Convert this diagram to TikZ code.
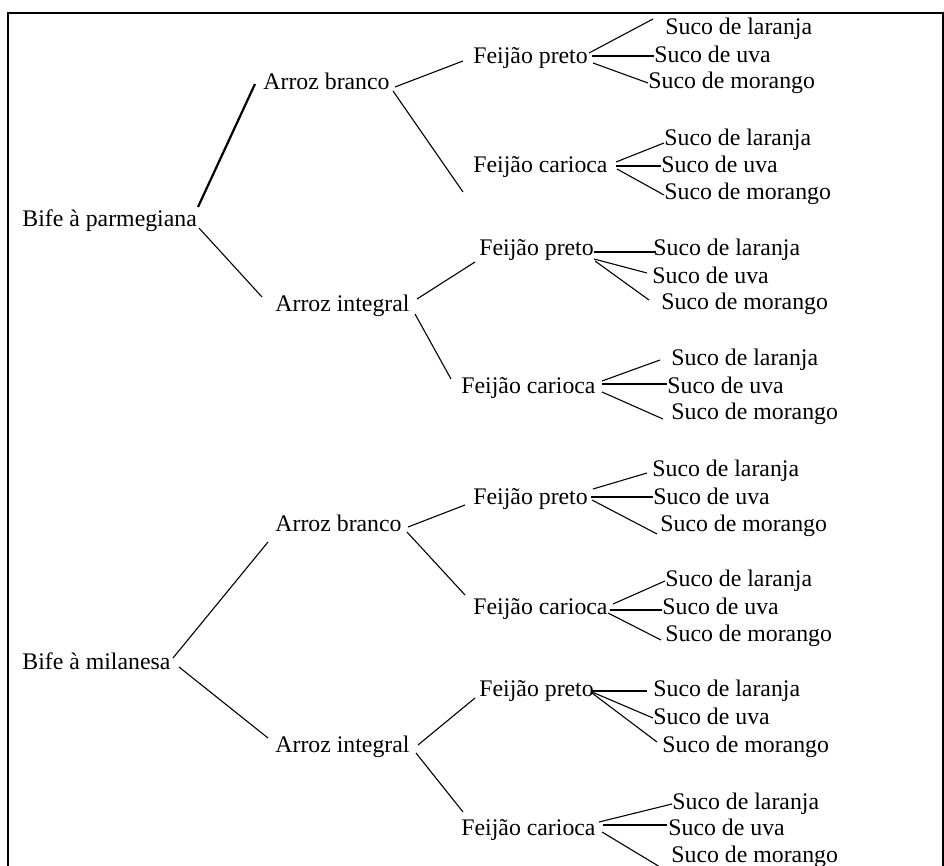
\documentclass[tikz,border=0pt]{standalone}
\usepackage{fontspec}
\setmainfont{Liberation Serif}
\tikzset{
  lbl/.style={anchor=base west, inner sep=0pt, font=\fontsize{11.9}{14}\selectfont},
  conn/.style={line width=0.55pt},
  thickconn/.style={line width=1.1pt},
  frameline/.style={line width=1.1pt}
}
\newcommand\lnk[5]{\coordinate (#1-#2-s) at (#3); \coordinate (#1-#2-e) at (#4); \draw[#5] (#1-#2-s) -- (#1-#2-e);}
\begin{document}
\begin{tikzpicture}[x=0.5pt,y=-0.5pt]
\useasboundingbox (0,0) rectangle (944,866);
% frame
\coordinate (fbl) at (8,870);
\coordinate (ftl) at (8,13);
\coordinate (ftr) at (943,13);
\coordinate (fbr) at (943,870);
\draw[frameline] (fbl) -- (ftl) -- (ftr) -- (fbr);
% level 0
\node[lbl] (B1) at (22,227) {Bife à parmegiana};
\node[lbl] (B2) at (22,669) {Bife à milanesa};
% level 1
\node[lbl] (A1) at (263,90) {Arroz branco};
\node[lbl] (A2) at (275,312) {Arroz integral};
\node[lbl] (A3) at (275,532) {Arroz branco};
\node[lbl] (A4) at (275,752) {Arroz integral};
% level 2
\node[lbl] (F1) at (473,64) {Feijão preto};
\node[lbl] (F2) at (473,173) {Feijão carioca};
\node[lbl] (F3) at (479,256) {Feijão preto};
\node[lbl] (F4) at (461,394) {Feijão carioca};
\node[lbl] (F5) at (473,505) {Feijão preto};
\node[lbl] (F6) at (473,615) {Feijão carioca};
\node[lbl] (F7) at (479,697) {Feijão preto};
\node[lbl] (F8) at (461,835) {Feijão carioca};
% level 3
\node[lbl] (S11) at (665,35) {Suco de laranja};
\node[lbl] (S12) at (654,63) {Suco de uva};
\node[lbl] (S13) at (648,89) {Suco de morango};
\node[lbl] (S21) at (664,146) {Suco de laranja};
\node[lbl] (S22) at (661,173) {Suco de uva};
\node[lbl] (S23) at (664,200) {Suco de morango};
\node[lbl] (S31) at (653,256) {Suco de laranja};
\node[lbl] (S32) at (652,284) {Suco de uva};
\node[lbl] (S33) at (661,310) {Suco de morango};
\node[lbl] (S41) at (671,366) {Suco de laranja};
\node[lbl] (S42) at (667,394) {Suco de uva};
\node[lbl] (S43) at (671,420) {Suco de morango};
\node[lbl] (S51) at (652,477) {Suco de laranja};
\node[lbl] (S52) at (653,505) {Suco de uva};
\node[lbl] (S53) at (660,532) {Suco de morango};
\node[lbl] (S61) at (665,587) {Suco de laranja};
\node[lbl] (S62) at (662,615) {Suco de uva};
\node[lbl] (S63) at (665,642) {Suco de morango};
\node[lbl] (S71) at (653,697) {Suco de laranja};
\node[lbl] (S72) at (653,725) {Suco de uva};
\node[lbl] (S73) at (662,752) {Suco de morango};
\node[lbl] (S81) at (672,809) {Suco de laranja};
\node[lbl] (S82) at (668,835) {Suco de uva};
\node[lbl] (S83) at (671,863) {Suco de morango};
% connectors
\lnk{B1}{A1}{198,207}{255,84}{thickconn}
\lnk{B1}{A2}{199,228}{262,297}{conn}
\lnk{A1}{F1}{395,87}{463,61}{conn}
\lnk{A1}{F2}{393,91}{463,192}{conn}
\lnk{A2}{F3}{417,299}{475,262}{conn}
\lnk{A2}{F4}{415,314}{451,379}{conn}
\lnk{F1}{S11}{589,53}{653,19}{conn}
\lnk{F1}{S12}{592,56}{654,56}{conn}
\lnk{F1}{S13}{593,63}{648,83}{conn}
\lnk{F2}{S21}{616,162}{664,143}{conn}
\lnk{F2}{S22}{616,166}{661,166}{conn}
\lnk{F2}{S23}{617,169}{664,195}{conn}
\lnk{F3}{S31}{594,252}{656,252}{conn}
\lnk{F3}{S32}{594,259}{647,273}{conn}
\lnk{F3}{S33}{595,261}{649,300}{conn}
\lnk{F4}{S41}{602,381}{660,360}{conn}
\lnk{F4}{S42}{602,384}{667,384}{conn}
\lnk{F4}{S43}{602,392}{663,419}{conn}
\lnk{B2}{A3}{173,658}{268,542}{conn}
\lnk{B2}{A4}{179,667}{268,738}{conn}
\lnk{A3}{F5}{408,527}{465,505}{conn}
\lnk{A3}{F6}{407,532}{465,595}{conn}
\lnk{A4}{F7}{418,745}{475,698}{conn}
\lnk{A4}{F8}{416,753}{463,812}{conn}
\lnk{F5}{S51}{593,489}{647,473}{conn}
\lnk{F5}{S52}{591,497}{653,497}{conn}
\lnk{F5}{S53}{592,500}{657,534}{conn}
\lnk{F6}{S61}{613,604}{665,581}{conn}
\lnk{F6}{S62}{610,610}{662,610}{conn}
\lnk{F6}{S63}{608,613}{661,640}{conn}
\lnk{F7}{S71}{592,691}{647,691}{conn}
\lnk{F7}{S72}{592,692}{653,718}{conn}
\lnk{F7}{S73}{592,693}{657,742}{conn}
\lnk{F8}{S81}{599,822}{672,804}{conn}
\lnk{F8}{S82}{603,825}{667,825}{conn}
\lnk{F8}{S83}{602,832}{660,867}{conn}
\end{tikzpicture}
\end{document}
